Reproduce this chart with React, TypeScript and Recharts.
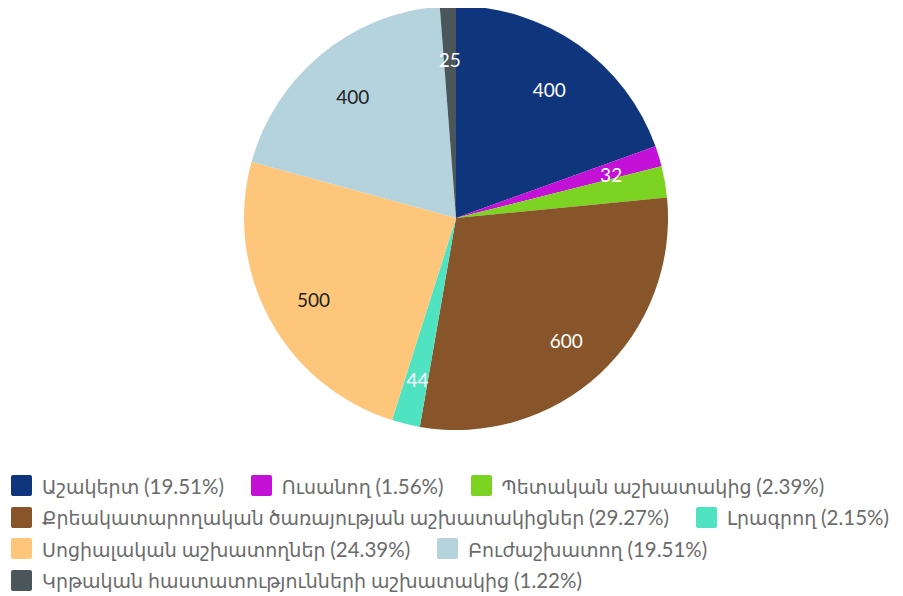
import React from "react";
import { PieChart, Pie, Cell, Legend } from "recharts";

const categories = [
  "Աշակերտ",
  "Ուսանող",
  "Պետական աշխատակից",
  "Քրեակատարողական ծառայության աշխատակիցներ",
  "Լրագրող",
  "Սոցիալական աշխատողներ",
  "Բուժաշխատող",
  "Կրթական հաստատությունների աշխատակից",
];
const values = [400, 32, 49, 600, 44, 500, 400, 25];
const percentLabels = ["19.51%", "1.56%", "2.39%", "29.27%", "2.15%", "24.39%", "19.51%", "1.22%"];
const colors = ["#0f367d", "#c311d8", "#7dd321", "#88552a", "#50e3c2", "#fec67b", "#b4d3dc", "#4a5659"];
const labelColors = ["#ffffff", "#ffffff", "#ffffff", "#ffffff", "#ffffff", "#222222", "#222222", "#ffffff"];
const showLabel = [true, true, false, true, true, true, true, true];
const legendRows = [[0, 1, 2], [3, 4], [5, 6], [7]];

const data = categories.map((name, i) => ({ name, value: values[i] }));

const FONT = "Lato, 'DejaVu Sans', sans-serif";
const RAD = Math.PI / 180;

const renderLabel = (props: any) => {
  const { cx, cy, midAngle, outerRadius, index, value } = props;
  if (!showLabel[index]) return null;
  const r = outerRadius * 0.765;
  const x = cx + r * Math.cos(-midAngle * RAD);
  const y = cy + r * Math.sin(-midAngle * RAD) + 4;
  return (
    <text
      x={x}
      y={y}
      fill={labelColors[index]}
      textAnchor="middle"
      dominantBaseline="central"
      fontSize={19}
      fontFamily={FONT}
    >
      {value}
    </text>
  );
};

const renderLegend = () => (
  <div style={{ fontFamily: FONT, fontSize: 19, color: "#6b6b6b" }}>
    {legendRows.map((row, ri) => (
      <div key={ri} style={{ display: "flex", height: 31.5, alignItems: "center" }}>
        {row.map((i) => (
          <div key={i} style={{ display: "flex", alignItems: "center", marginRight: 27 }}>
            <div
              style={{
                width: 21,
                height: 21,
                background: colors[i],
                borderRadius: 2,
                marginRight: 10,
                flexShrink: 0,
              }}
            />
            <span style={{ whiteSpace: "nowrap" }}>
              {categories[i]} <span style={{ fontSize: 20.5 }}>({percentLabels[i]})</span>
            </span>
          </div>
        ))}
      </div>
    ))}
  </div>
);

export default function App() {
  return (
    <PieChart width={895} height={588}>
      <Pie
        data={data}
        dataKey="value"
        nameKey="name"
        cx={443}
        cy={205}
        outerRadius={212}
        startAngle={90}
        endAngle={-270}
        stroke="none"
        label={renderLabel}
        labelLine={false}
        isAnimationActive={false}
      >
        {data.map((d, i) => (
          <Cell key={i} fill={colors[i]} />
        ))}
      </Pie>
      <Legend
        content={renderLegend}
        wrapperStyle={{ position: "absolute", top: 462, left: 3, width: 892 }}
      />
    </PieChart>
  );
}
